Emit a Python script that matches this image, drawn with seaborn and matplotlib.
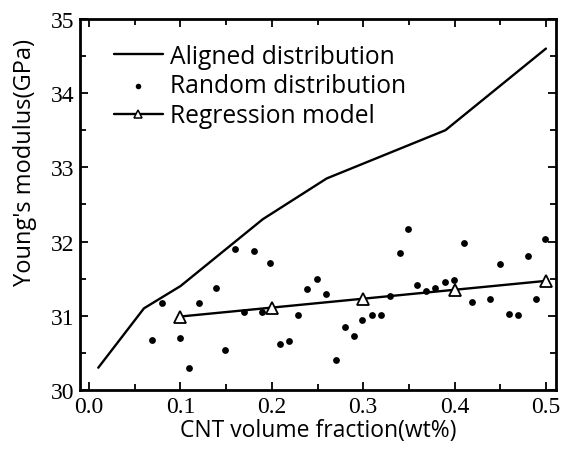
import matplotlib
matplotlib.use("Agg")
import matplotlib.pyplot as plt
import seaborn as sns
import numpy as np
import pandas as pd
from matplotlib.ticker import MultipleLocator

# Data
aligned_x = [0.01, 0.06, 0.10, 0.19, 0.26, 0.39, 0.50]
aligned_y = [30.30, 31.10, 31.40, 32.30, 32.85, 33.50, 34.60]

regress_x = [0.1, 0.2, 0.3, 0.4, 0.5]
regress_y = [30.99, 31.11, 31.23, 31.35, 31.47]

random_x = [0.069, 0.080, 0.099, 0.109, 0.120, 0.139, 0.149, 0.160, 0.170, 0.180,
            0.189, 0.198, 0.209, 0.219, 0.229, 0.239, 0.249, 0.259, 0.270, 0.280,
            0.290, 0.299, 0.310, 0.319, 0.329, 0.340, 0.349, 0.359, 0.369, 0.379,
            0.390, 0.399, 0.410, 0.419, 0.439, 0.450, 0.460, 0.469, 0.480, 0.489,
            0.499]
random_y = [30.67, 31.17, 30.70, 30.30, 31.17, 31.38, 30.54, 31.90, 31.05, 31.87,
            31.05, 31.71, 30.62, 30.66, 31.01, 31.36, 31.50, 31.29, 30.40, 30.85,
            30.73, 30.94, 31.01, 31.01, 31.26, 31.84, 32.17, 31.42, 31.33, 31.37,
            31.46, 31.48, 31.98, 31.18, 31.23, 31.70, 31.03, 31.01, 31.81, 31.23,
            32.04]

x_ticks = [0.0, 0.1, 0.2, 0.3, 0.4, 0.5]
x_ticklabels = ["0.0", "0.1", "0.2", "0.3", "0.4", "0.5"]
y_ticks = [30, 31, 32, 33, 34, 35]
y_ticklabels = ["30", "31", "32", "33", "34", "35"]

sns.set_theme(style="ticks")
plt.rcParams['font.family'] = ['Open Sans', 'DejaVu Sans']
plt.rcParams['text.color'] = 'black'
plt.rcParams['axes.labelcolor'] = 'black'
plt.rcParams['xtick.color'] = 'black'
plt.rcParams['ytick.color'] = 'black'

fig = plt.figure(figsize=(5.73, 4.52), dpi=100)
ax = fig.add_axes([0.1396, 0.135, 0.9703 - 0.1396, 0.956 - 0.135])

df_al = pd.DataFrame({"x": aligned_x, "y": aligned_y})
df_rg = pd.DataFrame({"x": regress_x, "y": regress_y})
df_rd = pd.DataFrame({"x": random_x, "y": random_y})

sns.lineplot(data=df_al, x="x", y="y", ax=ax, color="black", lw=1.7,
             label="Aligned distribution", sort=False)
sns.scatterplot(data=df_rd, x="x", y="y", ax=ax, color="black", s=24,
                edgecolor="black", linewidth=0, label="Random distribution", zorder=3)
sns.lineplot(data=df_rg, x="x", y="y", ax=ax, color="black", lw=1.7,
             marker="^", markersize=8, markerfacecolor="white",
             markeredgecolor="black", markeredgewidth=1.3,
             label="Regression model", sort=False, zorder=4)

ax.set_xlim(-0.01, 0.511)
ax.set_ylim(30, 35)
ax.set_xticks(x_ticks)
ax.set_xticklabels(x_ticklabels, family=['Liberation Serif', 'DejaVu Serif'])
ax.set_yticks(y_ticks)
ax.set_yticklabels(y_ticklabels, family=['Liberation Serif', 'DejaVu Serif'])
ax.xaxis.set_minor_locator(MultipleLocator(0.05))
ax.yaxis.set_minor_locator(MultipleLocator(0.5))
ax.tick_params(which="both", direction="in", top=True, right=True,
               width=1.3, color="black", labelcolor="black", labelsize=17, pad=4)
ax.tick_params(which="major", length=6)
ax.tick_params(which="minor", length=4)
for s in ax.spines.values():
    s.set_linewidth(2.0)
    s.set_color("black")
    s.set_visible(True)

ax.set_xlabel("CNT volume fraction(wt%)", fontsize=16.5, labelpad=1,
              color="black", fontweight=500)
ax.set_ylabel("Young's modulus(GPa)", fontsize=17, color="black", fontweight=500)
ax.yaxis.set_label_coords(-0.09, 0.615)

leg = ax.legend(loc="upper left", bbox_to_anchor=(0.035, 0.98), frameon=False,
                handlelength=2.0, handletextpad=0.3,
                labelspacing=0.2, borderaxespad=0.3,
                prop={'size': 17.7, 'weight': 500})
for t in leg.get_texts():
    t.set_color("black")
hs = leg.legend_handles
hs[1].set_sizes([16])
hs[2].set_markersize(5.5)
hs[2].set_markeredgewidth(1.1)

fig.savefig("out.png", dpi=100)
